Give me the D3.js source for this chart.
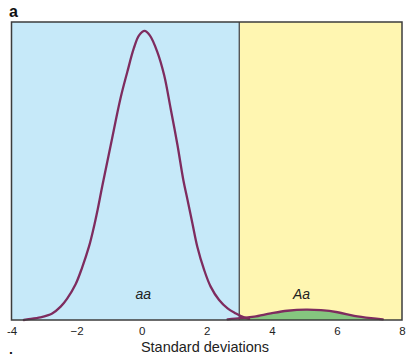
<!DOCTYPE html>
<html>
<head>
<meta charset="utf-8">
<script src="https://cdn.jsdelivr.net/npm/d3@7"></script>
<style>
  html, body { margin: 0; padding: 0; background: #fff; }
  svg { display: block; font-family: "Liberation Sans", Arial, Helvetica, sans-serif; }
</style>
</head>
<body>
<svg id="chart" width="406" height="354"></svg>
<script>
// Distribution of the trait, in standard deviations, for two genotypes.
// Heights are relative densities (top of the frame = 1).
const aaX = [-3.62, -3.52, -3.11, -2.75, -2.49, -2.29, -2.03, -1.83, -1.62, -1.49, -1.35, -1.21,
             -0.95, -0.65, -0.44, -0.24, -0.08, 0.09, 0.25, 0.48, 0.69, 0.89, 1.10, 1.28, 1.41,
             1.56, 1.71, 1.92, 2.12, 2.38, 2.64, 2.89, 3.05, 3.30];
const aaY = [0.000, 0.002, 0.009, 0.022, 0.045, 0.072, 0.120, 0.176, 0.246, 0.302, 0.372, 0.450,
             0.587, 0.744, 0.833, 0.912, 0.955, 0.970, 0.955, 0.900, 0.822, 0.710, 0.587, 0.470, 0.403,
             0.324, 0.246, 0.168, 0.112, 0.067, 0.039, 0.022, 0.013, 0.004];

const AaX = [2.64, 3.05, 3.46, 3.97, 4.48, 5.05, 5.51, 6.02, 6.53, 7.05, 7.41];
const AaY = [0.002, 0.006, 0.011, 0.022, 0.031, 0.035, 0.033, 0.026, 0.014, 0.006, 0.002];

// Threshold separating the two shaded regions
const threshold = 3;
const xDomain = [-4, 8];
const tickValues = [-4, -2, 0, 2, 4, 6, 8];
const tickLabels = ["-4", "\u22122", "0", "2", "4", "6", "8"];

const svg = d3.select("#chart");
const plotLeft = 11.5, plotRight = 402, plotTop = 22, plotBottom = 320;

const x = d3.scaleLinear().domain(xDomain).range([plotLeft, plotRight]);
const y = d3.scaleLinear().domain([0, 1]).range([plotBottom, plotTop]);

const colors = {
  blue: "#c6e9f9",
  yellow: "#fff6b1",
  green: "#85c67f",
  curve: "#7e2c5f",
  frame: "#3c3c3c"
};

// Background regions
svg.append("rect")
  .attr("x", x(xDomain[0])).attr("y", plotTop)
  .attr("width", x(threshold) - x(xDomain[0])).attr("height", plotBottom - plotTop)
  .attr("fill", colors.blue);
svg.append("rect")
  .attr("x", x(threshold)).attr("y", plotTop)
  .attr("width", x(xDomain[1]) - x(threshold)).attr("height", plotBottom - plotTop)
  .attr("fill", colors.yellow);

// Clip for the shaded area above the threshold
svg.append("clipPath").attr("id", "above")
  .append("rect")
  .attr("x", x(threshold)).attr("y", plotTop)
  .attr("width", x(xDomain[1]) - x(threshold)).attr("height", plotBottom - plotTop);

const aaData = aaX.map((v, i) => [v, aaY[i]]);
const AaData = AaX.map((v, i) => [v, AaY[i]]);

const smooth = d3.curveCatmullRom.alpha(0.5);
const area = d3.area()
  .x(d => x(d[0])).y0(y(0)).y1(d => y(Math.max(0, d[1])))
  .curve(smooth);
const line = d3.line()
  .x(d => x(d[0])).y(d => y(d[1]))
  .curve(smooth);

svg.append("path")
  .datum(AaData)
  .attr("clip-path", "url(#above)")
  .attr("d", area)
  .attr("fill", colors.green);

// Threshold divider
svg.append("line")
  .attr("x1", x(threshold)).attr("x2", x(threshold))
  .attr("y1", plotTop).attr("y2", plotBottom)
  .attr("stroke", "#555").attr("stroke-width", 1.4);

// Density curves
[aaData, AaData].forEach(data => {
  svg.append("path")
    .datum(data)
    .attr("d", line)
    .attr("fill", "none")
    .attr("stroke", colors.curve)
    .attr("stroke-width", 2.3)
    .attr("stroke-linejoin", "round")
    .attr("stroke-linecap", "round");
});

// Frame
svg.append("rect")
  .attr("x", plotLeft).attr("y", plotTop)
  .attr("width", plotRight - plotLeft).attr("height", plotBottom - plotTop)
  .attr("fill", "none")
  .attr("stroke", colors.frame).attr("stroke-width", 1.5);

// Axis
const axis = d3.axisBottom(x)
  .tickValues(tickValues)
  .tickSize(0)
  .tickPadding(6.5)
  .tickFormat((d, i) => tickLabels[i]);
const gx = svg.append("g")
  .attr("transform", `translate(0,${plotBottom})`)
  .call(axis);
gx.select(".domain").remove();
gx.selectAll("text")
  .attr("font-family", "'Liberation Sans', Arial, sans-serif")
  .attr("font-size", 11.5)
  .attr("fill", "#222");

svg.append("text")
  .attr("x", 205).attr("y", 351.5)
  .attr("text-anchor", "middle")
  .attr("font-size", 14.5)
  .attr("fill", "#222")
  .text("Standard deviations");

// Genotype labels
svg.append("text")
  .attr("x", x(0.05)).attr("y", 299)
  .attr("text-anchor", "middle")
  .attr("font-size", 14).attr("font-style", "italic")
  .attr("fill", "#222")
  .text("aa");
svg.append("text")
  .attr("x", 301.5).attr("y", 299)
  .attr("text-anchor", "middle")
  .attr("font-size", 14).attr("font-style", "italic")
  .attr("fill", "#222")
  .text("Aa");

// Panel letters
svg.append("text")
  .attr("x", 9).attr("y", 17)
  .attr("font-size", 16).attr("font-weight", "bold")
  .attr("fill", "#111")
  .text("a");
svg.append("text")
  .attr("x", 9).attr("y", 362.5)
  .attr("font-size", 14).attr("font-weight", "bold")
  .attr("fill", "#111")
  .text("b");
</script>
</body>
</html>
